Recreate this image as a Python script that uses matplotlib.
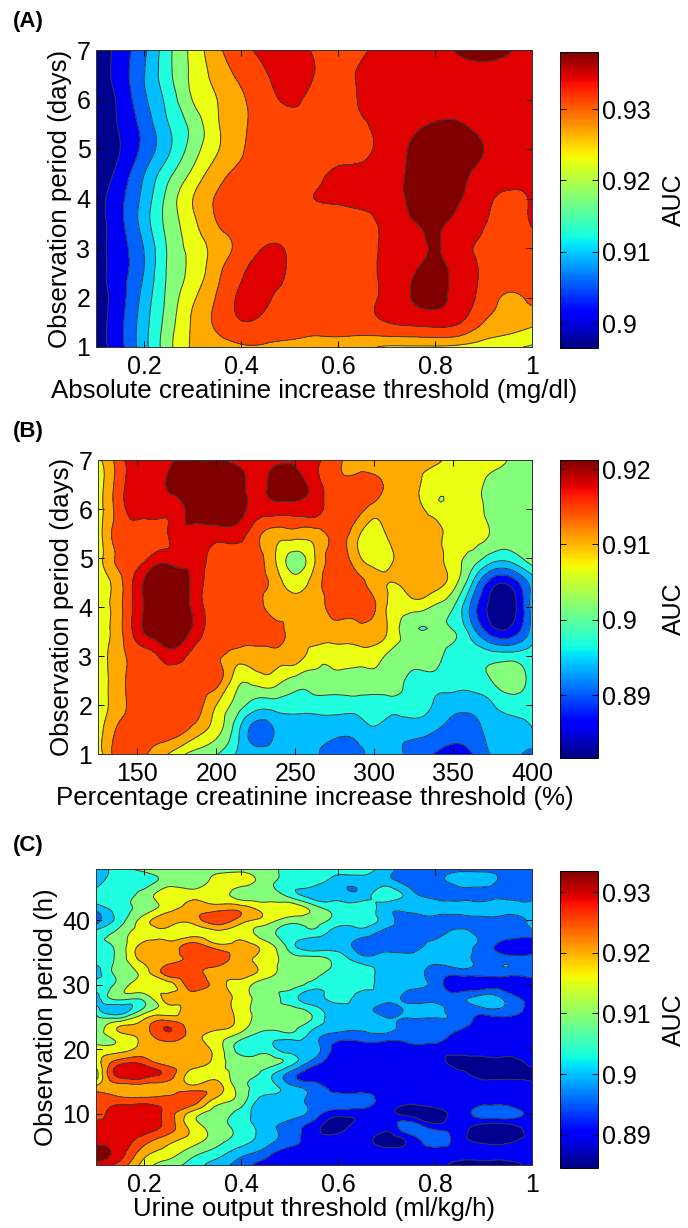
import numpy as np
import matplotlib
matplotlib.use("agg")
import matplotlib.pyplot as plt
from matplotlib.cm import ScalarMappable
from matplotlib.colors import Normalize
from matplotlib.tri import Triangulation, UniformTriRefiner

plt.rcParams['font.family'] = ['Liberation Sans', 'DejaVu Sans']

## AUC values, in thousandths. Rows run from the top of each panel down.

x_a = [0.1, 0.15, 0.2, 0.25, 0.3, 0.35, 0.4, 0.45, 0.5, 0.55, 0.6, 0.65, 0.7, 0.75, 0.8, 0.85, 0.9, 0.95, 1.0]
y_a = [7, 6.5, 6, 5.5, 5, 4.5, 4, 3.5, 3, 2.5, 2, 1.5, 1]
auc_a = [
    [897, 901.7, 907.2, 915, 921.2, 927, 930.8, 933, 933.5, 931.6, 930, 931.5, 933, 934.5, 935.5, 936.2, 937, 936.2, 935],
    [897, 902, 908, 915, 921, 925.5, 929, 931.7, 933.5, 932, 930.5, 932.5, 933, 934, 934.5, 935, 935, 935, 934.5],
    [897, 901, 907.3, 913.5, 920.2, 924, 927.4, 930.5, 932.5, 931, 930.5, 932.4, 933, 934, 934.5, 934.8, 934.5, 934.5, 934],
    [897, 900.5, 905.7, 912, 917.5, 923.5, 927.4, 929.5, 931, 931, 931, 931.8, 933, 935, 936.2, 936.2, 935, 934.5, 934],
    [897, 900, 905.3, 911.4, 918, 923.6, 927.6, 930, 930.5, 931, 931, 931.3, 933.5, 936.3, 937.5, 937.5, 936, 934.5, 934],
    [897, 901.5, 908, 914.9, 921, 926.4, 928.8, 929.5, 930, 931, 932.6, 933, 934.5, 936.4, 937.5, 936.8, 935, 934, 933.5],
    [898, 903, 909.5, 917.5, 924, 928.4, 929.5, 930, 931, 932, 932.5, 933, 934, 936.5, 937.2, 936.2, 933.5, 931, 932.5],
    [898, 903, 910, 917.5, 923, 928, 929, 930, 930.5, 930.5, 930.5, 931, 933, 935.5, 936.5, 934.7, 932.3, 930.5, 932.3],
    [898, 902.5, 908.3, 916.7, 921.3, 925.9, 929.3, 932.2, 931.5, 930, 930, 931, 932.4, 934, 936.2, 933.5, 931.5, 931, 930.5],
    [898, 902.5, 908.3, 916.7, 921.3, 927, 931.5, 933.5, 931.5, 930, 930, 931, 932.8, 935.5, 937, 934.5, 931.5, 930.5, 930],
    [898, 902.5, 909.6, 917.2, 923.3, 928.4, 932.7, 932.5, 931, 930.5, 930.5, 931, 933, 936, 936.8, 934.5, 930.5, 927.5, 929],
    [898, 903, 910.5, 918, 924.6, 928.8, 931.8, 931, 930, 929.5, 930, 930.5, 932, 933, 933.5, 932.3, 928, 926, 925],
    [898, 902.8, 910.7, 918.7, 924.5, 926, 927.5, 927.5, 927, 926.5, 926, 925, 923.5, 923.5, 923.5, 923, 922, 920.8, 919.5],
]

x_b = [125, 137.5, 150, 162.5, 175, 187.5, 200, 212.5, 225, 237.5, 250, 262.5, 275, 287.5, 300, 312.5, 325, 337.5, 350, 362.5, 375, 387.5, 400]
y_b = [7, 6.5, 6, 5.5, 5, 4.5, 4, 3.5, 3, 2.5, 2, 1.5, 1]
auc_b = [
    [906, 912, 917, 917, 918, 918, 918, 917, 917, 917, 917, 915, 912, 909, 908, 908, 908, 908, 906, 905, 905, 903, 902],
    [905, 912, 916, 916, 920, 920, 920, 920, 916, 920, 920, 916, 912, 912, 912, 909, 908, 905, 905, 905, 902, 902, 902],
    [905, 912, 916, 916, 916, 920, 920, 920, 916, 916, 916, 916, 912, 912, 909, 909, 909, 905, 905, 905, 902, 902, 902],
    [905, 912, 912, 912, 916, 916, 916, 916, 912, 909, 909, 909, 912, 909, 905, 909, 909, 909, 905, 905, 903, 902, 902],
    [905, 911, 912, 916, 916, 916, 912, 912, 912, 907, 902, 907, 912, 909, 905, 907, 909, 909, 905, 902, 898, 898, 902],
    [905, 909, 916, 920, 920, 916, 912, 912, 912, 909, 905, 909, 912, 912, 909, 907, 909, 909, 905, 896, 887, 887, 894],
    [905, 909, 916, 920, 920, 916, 912, 912, 912, 909, 909, 909, 912, 912, 911, 905, 905, 903, 900, 891, 884, 884, 894],
    [905, 909, 916, 920, 920, 916, 912, 912, 912, 912, 909, 909, 909, 909, 909, 905, 900.5, 900.5, 900, 894, 887, 887, 894],
    [905, 909, 912, 914, 916, 912, 911, 909, 909, 909, 909, 905, 905, 905, 905, 902, 902, 902, 898, 898, 898, 898, 898],
    [905, 909, 912, 912, 912, 912, 912, 905, 905, 905, 902, 902, 902, 902, 902, 902, 898, 898, 898, 898, 900, 902, 898],
    [905, 909, 912, 912, 912, 912, 907, 902, 898, 898, 898, 898, 898, 898, 898, 898, 898, 896, 894, 894, 896, 898, 898],
    [905, 911, 912, 912, 912, 909, 905, 898, 891, 893, 894, 894, 894, 894, 896, 894, 894, 893, 891, 891, 894, 894, 896],
    [905, 912, 912, 909, 905, 902, 900, 896, 894, 894, 894, 893, 891, 891, 894, 894, 891, 889, 887, 889, 893, 894, 891],
]

x_c = [0.1, 0.15, 0.2, 0.25, 0.3, 0.35, 0.4, 0.45, 0.5, 0.55, 0.6, 0.65, 0.7, 0.75, 0.8, 0.85, 0.9, 0.95, 1.0]
y_c = [48, 46, 44, 42, 40, 38, 36, 34, 32, 30, 28, 26, 24, 22, 20, 18, 16, 14, 12, 10, 8, 6, 4, 2]
auc_c = [
    [898, 903, 907, 907, 907, 907, 907, 907, 903, 903, 903, 903, 898, 894, 894, 894, 894, 894, 894],
    [898, 903, 903, 907, 907, 912, 912, 907, 903, 903, 898, 898, 898, 894, 894, 898, 898, 894, 894],
    [903, 903, 907, 912, 912, 912, 907, 907, 903, 898, 898, 898, 903, 898, 894, 894, 894, 894, 894],
    [898, 903, 907, 912, 916, 916, 916, 912, 912, 907, 903, 903, 898, 898, 898, 898, 898, 898, 898],
    [894, 903, 912, 916, 916, 921, 916, 912, 907, 907, 903, 903, 898, 894, 894, 894, 894, 894, 898],
    [903, 907, 912, 912, 912, 912, 912, 907, 903, 903, 898, 898, 894, 894, 894, 898, 894, 894, 894],
    [903, 907, 916, 916, 921, 916, 916, 912, 903, 898, 898, 894, 894, 894, 898, 898, 894, 889, 889],
    [903, 907, 916, 916, 921, 921, 916, 912, 907, 907, 903, 898, 898, 898, 898, 898, 894, 894, 894],
    [898, 907, 912, 921, 921, 916, 916, 912, 907, 907, 903, 903, 898, 898, 894, 894, 894, 894, 894],
    [903, 907, 912, 912, 921, 916, 912, 907, 907, 903, 903, 903, 898, 898, 894, 889, 889, 889, 889],
    [898, 907, 907, 916, 916, 916, 912, 907, 903, 898, 903, 898, 898, 894, 894, 894, 898, 894, 889],
    [903, 898, 907, 912, 916, 916, 912, 907, 907, 903, 898, 898, 894, 898, 898, 894, 894, 894, 889],
    [907, 912, 916, 921, 916, 916, 912, 907, 907, 903, 898, 898, 898, 894, 894, 894, 889, 889, 889],
    [907, 912, 916, 921, 916, 912, 907, 903, 903, 898, 894, 894, 894, 894, 894, 889, 889, 889, 889],
    [912, 912, 916, 916, 916, 912, 903, 903, 898, 898, 889, 889, 889, 889, 889, 889, 889, 889, 889],
    [912, 921, 921, 916, 916, 912, 907, 907, 903, 894, 889, 889, 889, 889, 889, 885, 885, 885, 889],
    [907, 925, 925, 921, 912, 912, 907, 903, 894, 889, 889, 889, 889, 889, 889, 889, 885, 885, 885],
    [916, 916, 916, 916, 916, 916, 907, 903, 898, 894, 889, 889, 889, 889, 889, 889, 889, 889, 889],
    [921, 921, 921, 921, 921, 912, 907, 898, 898, 894, 894, 894, 889, 889, 889, 889, 889, 889, 889],
    [921, 925, 925, 921, 912, 907, 903, 898, 898, 894, 889, 889, 889, 885, 885, 889, 894, 894, 889],
    [925, 925, 925, 921, 912, 907, 903, 898, 894, 889, 885, 889, 889, 894, 889, 889, 885, 885, 889],
    [925, 925, 921, 916, 912, 907, 903, 898, 894, 889, 889, 889, 885, 889, 894, 889, 885, 885, 889],
    [930, 925, 916, 912, 907, 903, 898, 894, 889, 889, 889, 889, 889, 889, 889, 889, 889, 889, 889],
    [925, 921, 912, 907, 903, 898, 894, 889, 889, 889, 889, 889, 889, 889, 889, 885, 885, 885, 889],
]

levels_a = [880, 900, 904, 908, 912, 916, 920, 924, 928, 932, 936, 950]
levels_b = [870, 885.4, 889, 892.6, 896.2, 899.8, 903.4, 907, 910.6, 914.2, 917.8, 930]
levels_c = [870, 887, 891.5, 896, 900.5, 905, 909.5, 914, 918.5, 923, 927.5, 940]

xticks_a = [0.2, 0.4, 0.6, 0.8, 1]
xticks_b = [150, 200, 250, 300, 350, 400]
xticks_c = [0.2, 0.4, 0.6, 0.8, 1]
yticks_ab = [1, 2, 3, 4, 5, 6, 7]
yticks_c = [10, 20, 30, 40]

cbticks_a = [0.9, 0.91, 0.92, 0.93]
cbticks_b = [0.89, 0.9, 0.91, 0.92]
cbticks_c = [0.89, 0.9, 0.91, 0.92, 0.93]

band_colors = ['#00008f', '#0000f5', '#0062ff', '#00beff', '#20ffdf', '#84ff7b',
               '#ebff14', '#ffaa00', '#ff4500', '#e00000', '#800000']

W, H = 688, 1228
FS = 18
LABEL_FS = 18.6


def box(left, top, right, bottom):
    # pixel box in the picture -> figure fractions
    return [left / W, 1 - bottom / H, (right - left) / W, (bottom - top) / H]


def panel(ax_box, cb_box, x, y, z, levels, xticks, yticks, xlim, ylim, cbticks, cbrange, xlabel, ylabel, tag, tag_y):
    ax = fig.add_axes(box(*ax_box))
    lv = np.array(levels) / 1000.0
    # the map was contoured smoothly, so let matplotlib refine the triangulated grid
    xx, yy = np.meshgrid(x, y)
    xspan = xlim[1] - xlim[0]
    yspan = ylim[1] - ylim[0]
    tri = Triangulation((xx.ravel() - xlim[0]) / xspan, (yy.ravel() - ylim[0]) / yspan)
    fine, zfine = UniformTriRefiner(tri).refine_field(np.array(z).ravel() / 1000.0, subdiv=3)
    fx = fine.x * xspan + xlim[0]
    fy = fine.y * yspan + ylim[0]
    ax.tricontourf(fx, fy, fine.triangles, zfine, levels=lv, colors=band_colors)
    ax.tricontour(fx, fy, fine.triangles, zfine, levels=lv[1:-1], colors='#3a3a3a', linewidths=0.7)
    ax.set_xlim(xlim)
    ax.set_ylim(ylim)
    ax.set_xticks(xticks)
    ax.set_xticklabels([str(t) for t in xticks])
    ax.set_yticks(yticks)
    ax.tick_params(direction='in', top=True, right=True, length=4, width=0.7, labelsize=FS, pad=4)
    ax.tick_params(axis='x', pad=6)
    ax.set_xlabel(xlabel, fontsize=LABEL_FS, labelpad=0)
    ax.set_ylabel(ylabel, fontsize=LABEL_FS, labelpad=3)
    for s in ax.spines.values():
        s.set_linewidth(0.7)
        s.set_color('#333333')

    cax = fig.add_axes(box(*cb_box))
    sm = ScalarMappable(Normalize(cbrange[0], cbrange[1]), cmap='jet')
    cb = fig.colorbar(sm, cax=cax)
    cb.set_ticks(cbticks)
    cb.set_ticklabels([str(t) for t in cbticks])
    cb.ax.tick_params(direction='in', left=True, right=True, length=4, width=0.7, labelsize=FS, pad=3)
    cb.set_label('AUC', fontsize=18, labelpad=8)
    cb.outline.set_linewidth(0.7)

    fig.text(13 / W, 1 - tag_y / H, tag, fontsize=16, fontweight='bold', va='center', ha='left')


fig = plt.figure(figsize=(W / 100, H / 100), dpi=100)

panel((96, 50, 532, 347), (560, 52, 598, 348), x_a, y_a, auc_a, levels_a, xticks_a, yticks_ab,
      (0.1, 1), (1, 7), cbticks_a, (0.8965, 0.938),
      'Absolute creatinine increase threshold (mg/dl)', 'Observation period (days)', '(A)', 21)
panel((98, 460, 532, 754), (560, 460, 598, 758), x_b, y_b, auc_b, levels_b, xticks_b, yticks_ab,
      (125, 400), (1, 7), cbticks_b, (0.8817, 0.9212),
      'Percentage creatinine increase threshold (%)', 'Observation period (days)', '(B)', 431)
panel((96, 869, 532, 1165), (560, 871, 598, 1168), x_c, y_c, auc_c, levels_c, xticks_c, yticks_c,
      (0.1, 1), (2, 48), cbticks_c, (0.8845, 0.9335),
      'Urine output threshold (ml/kg/h)', 'Observation period (h)', '(C)', 845)

plt.savefig('out.png', dpi=100)
